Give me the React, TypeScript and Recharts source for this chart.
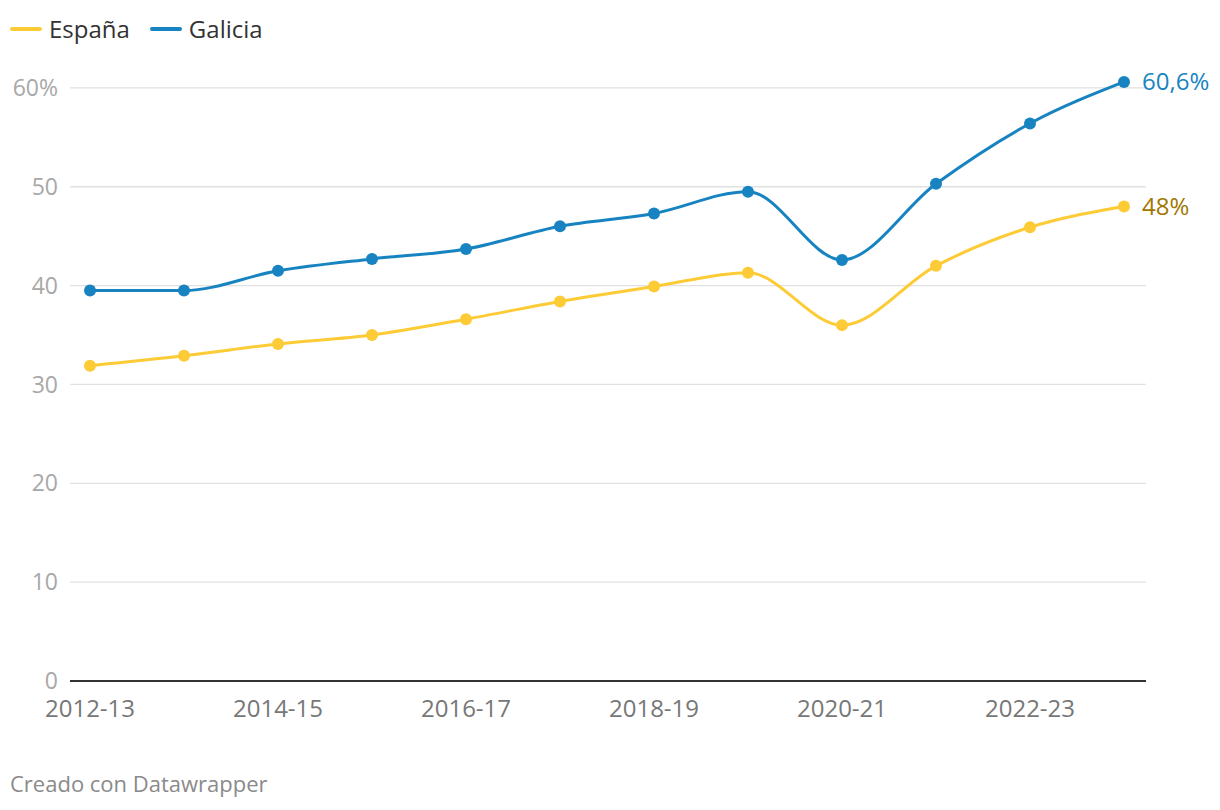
import React from "react";
import {
  CartesianGrid,
  LabelList,
  Line,
  LineChart,
  XAxis,
  YAxis,
} from "recharts";

const seasons = [
  "2012-13",
  "2013-14",
  "2014-15",
  "2015-16",
  "2016-17",
  "2017-18",
  "2018-19",
  "2019-20",
  "2020-21",
  "2021-22",
  "2022-23",
  "2023-24",
];
const espana = [31.9, 32.9, 34.1, 35.0, 36.6, 38.4, 39.9, 41.3, 36.0, 42.0, 45.9, 48.0];
const galicia = [39.5, 39.5, 41.5, 42.7, 43.7, 46.0, 47.3, 49.5, 42.6, 50.3, 56.4, 60.6];
const yTicks = [0, 10, 20, 30, 40, 50, 60];

const data = seasons.map((season, i) => ({
  season,
  espana: espana[i],
  galicia: galicia[i],
}));

const FONT = "'Open Sans', 'Noto Sans', sans-serif";
const YELLOW = "#fdcb35";
const BLUE = "#1784c1";

const fmt = (v: number) => String(v).replace(".", ",") + "%";

function endLabel(color: string) {
  return (props: any) => {
    const { x, y, index, value } = props;
    if (index !== seasons.length - 1) return null;
    return (
      <text
        x={x + 18}
        y={y}
        dy="0.35em"
        fill={color}
        fontSize={24}
        fontFamily={FONT}
      >
        {fmt(value)}
      </text>
    );
  };
}

export default function App() {
  return (
    <div
      style={{
        position: "absolute",
        left: 0,
        top: 0,
        width: 1220,
        height: 810,
        background: "#fff",
        fontFamily: FONT,
      }}
    >
      <div
        style={{
          position: "absolute",
          left: 10,
          top: 12,
          display: "flex",
          alignItems: "center",
          fontSize: 24,
          color: "#333",
        }}
      >
        <span style={{ width: 32, height: 4, borderRadius: 2, background: YELLOW, marginRight: 7 }} />
        <span style={{ marginRight: 20 }}>España</span>
        <span style={{ width: 32, height: 4, borderRadius: 2, background: BLUE, marginRight: 7 }} />
        <span>Galicia</span>
      </div>

      <div style={{ position: "absolute", left: 0, top: 0 }}>
        <LineChart
          width={1220}
          height={740}
          data={data}
          margin={{ top: 78, right: 74, bottom: 19, left: 0 }}
        >
          <CartesianGrid vertical={false} horizontalValues={yTicks} stroke="#e1e1e1" strokeWidth={1.3} />
          <XAxis
            dataKey="season"
            interval={1}
            height={40}
            padding={{ left: 20, right: 22 }}
            tickLine={false}
            tickSize={0}
            tickMargin={19}
            axisLine={{ stroke: "#333", strokeWidth: 2 }}
            tick={{ fill: "#777", fontSize: 24, fontFamily: FONT }}
          />
          <YAxis
            width={70}
            domain={[0, 61]}
            ticks={yTicks}
            axisLine={false}
            tickLine={false}
            tickSize={0}
            tickMargin={12}
            tickFormatter={(v: number) => (v === 60 ? "60%" : String(v))}
            tick={{ fill: "#a8a8a8", fontSize: 23, fontFamily: FONT }}
          />
          <Line
            type="monotoneX"
            dataKey="espana"
            stroke={YELLOW}
            strokeWidth={3}
            dot={{ r: 6, fill: YELLOW, stroke: "none" }}
            activeDot={false}
            isAnimationActive={false}
          >
            <LabelList dataKey="espana" content={endLabel("#a07800")} />
          </Line>
          <Line
            type="monotoneX"
            dataKey="galicia"
            stroke={BLUE}
            strokeWidth={3}
            dot={{ r: 6, fill: BLUE, stroke: "none" }}
            activeDot={false}
            isAnimationActive={false}
          >
            <LabelList dataKey="galicia" content={endLabel(BLUE)} />
          </Line>
        </LineChart>
      </div>

      <div
        style={{
          position: "absolute",
          left: 10,
          top: 768,
          fontSize: 22,
          color: "#8a8a8a",
        }}
      >
        Creado con Datawrapper
      </div>
    </div>
  );
}
